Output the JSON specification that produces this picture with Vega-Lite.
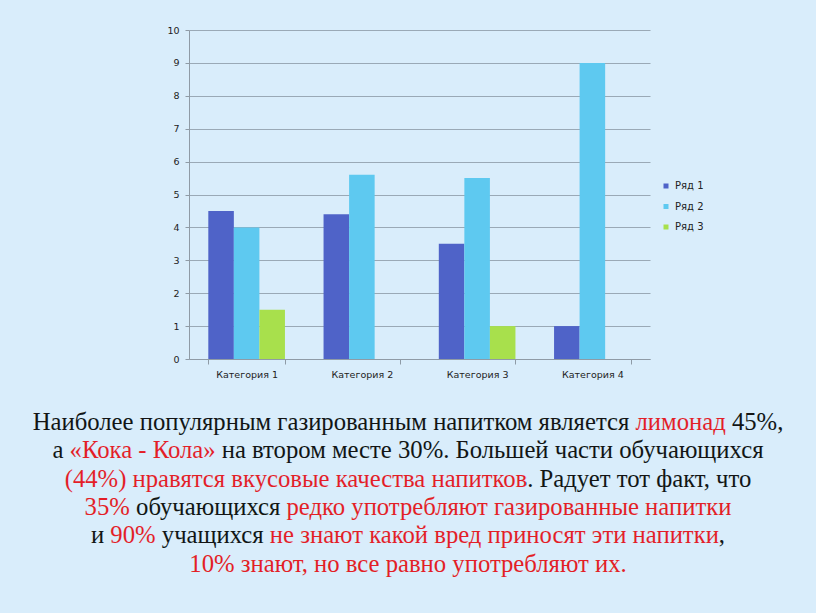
{
  "$schema": "https://vega.github.io/schema/vega-lite/v6.json",
  "autosize": {"type": "none"},
  "width": 461,
  "height": 329,
  "padding": {"left": 189, "top": 30, "right": 166, "bottom": 254},
  "background": "#d9edfb",
  "config": {
    "view": {"stroke": null},
    "font": "DejaVu Sans"
  },
  "datasets": {
    "bars": [
      {"category": "Категория 1", "series": "Ряд 1", "value": 4.5},
      {"category": "Категория 1", "series": "Ряд 2", "value": 4.0},
      {"category": "Категория 1", "series": "Ряд 3", "value": 1.5},
      {"category": "Категория 2", "series": "Ряд 1", "value": 4.4},
      {"category": "Категория 2", "series": "Ряд 2", "value": 5.6},
      {"category": "Категория 3", "series": "Ряд 1", "value": 3.5},
      {"category": "Категория 3", "series": "Ряд 2", "value": 5.5},
      {"category": "Категория 3", "series": "Ряд 3", "value": 1.0},
      {"category": "Категория 4", "series": "Ряд 1", "value": 1.0},
      {"category": "Категория 4", "series": "Ряд 2", "value": 9.0}
    ],
    "lines": [
      {"line": 1, "text": "Наиболее популярным газированным напитком является лимонад 45%,"},
      {"line": 2, "text": "а «Кока - Кола» на втором месте 30%. Большей части обучающихся"},
      {"line": 3, "text": "(44%) нравятся вкусовые качества напитков. Радует тот факт, что"},
      {"line": 4, "text": "35% обучающихся редко употребляют газированные напитки"},
      {"line": 5, "text": "и 90% учащихся не знают какой вред приносят эти напитки,"},
      {"line": 6, "text": "10% знают, но все равно употребляют их."}
    ]
  },
  "resolve": {"scale": {"y": "independent"}, "axis": {"y": "independent"}},
  "layer": [
    {
      "data": {"name": "bars"},
      "mark": {"type": "bar"},
      "encoding": {
        "x": {
          "field": "category",
          "type": "nominal",
          "scale": {"paddingInner": 0.335, "paddingOuter": 0.1675},
          "axis": {
            "title": null,
            "labelAngle": 0,
            "tickBand": "extent",
            "domainColor": "#8f9ba6",
            "tickColor": "#8f9ba6",
            "tickSize": 5,
            "labelFont": "DejaVu Sans",
            "labelFontSize": 9.5,
            "labelColor": "#222222",
            "labelPadding": 5
          }
        },
        "xOffset": {
          "field": "series",
          "type": "nominal",
          "scale": {"paddingInner": 0, "paddingOuter": 0}
        },
        "y": {
          "field": "value",
          "type": "quantitative",
          "scale": {"domain": [0, 10], "nice": false},
          "axis": {
            "title": null,
            "values": [0, 1, 2, 3, 4, 5, 6, 7, 8, 9, 10],
            "grid": true,
            "gridColor": "#9aa9b6",
            "gridOpacity": 1,
            "gridWidth": 1.2,
            "domainColor": "#8f9ba6",
            "tickColor": "#8f9ba6",
            "tickSize": 4,
            "labelFont": "DejaVu Sans",
            "labelFontSize": 9.5,
            "labelColor": "#222222",
            "labelPadding": 6
          }
        },
        "color": {
          "field": "series",
          "type": "nominal",
          "scale": {
            "domain": ["Ряд 1", "Ряд 2", "Ряд 3"],
            "range": ["#4f63c8", "#5ec9f0", "#a8e04c"]
          },
          "legend": {
            "title": null,
            "orient": "none",
            "legendX": 472,
            "legendY": 151,
            "padding": 0,
            "symbolType": "square",
            "symbolSize": 25,
            "symbolStrokeWidth": 0,
            "labelFont": "DejaVu Sans",
            "labelFontSize": 10,
            "labelColor": "#222222",
            "labelOffset": 4,
            "rowPadding": 10.5
          }
        }
      }
    },
    {
      "data": {"name": "lines"},
      "encoding": {
        "y": {"field": "line", "type": "ordinal", "axis": null, "scale": {"range": [400, 541.7], "padding": 0}},
        "text": {"field": "text", "type": "nominal"}
      },
      "layer": [
        {
          "transform": [{"filter": "datum.line == 1"}],
          "mark": {"type": "text", "font": "Times New Roman, Liberation Serif, serif", "fontSize": 24.7, "baseline": "alphabetic", "align": "center", "dx": -11.5,
            "fill": {"gradient": "linear", "x1": 0, "y1": 0, "x2": 1, "y2": 0, "stops": [
              {"offset": 0, "color": "#141414"}, {"offset": 0.801, "color": "#141414"},
              {"offset": 0.801, "color": "#e31e26"}, {"offset": 0.928, "color": "#e31e26"},
              {"offset": 0.928, "color": "#141414"}, {"offset": 1, "color": "#141414"}]}}
        },
        {
          "transform": [{"filter": "datum.line == 2"}],
          "mark": {"type": "text", "font": "Times New Roman, Liberation Serif, serif", "fontSize": 24.7, "baseline": "alphabetic", "align": "center", "dx": -11.5,
            "fill": {"gradient": "linear", "x1": 0, "y1": 0, "x2": 1, "y2": 0, "stops": [
              {"offset": 0, "color": "#141414"}, {"offset": 0.0196, "color": "#141414"},
              {"offset": 0.0196, "color": "#e31e26"}, {"offset": 0.2404, "color": "#e31e26"},
              {"offset": 0.2404, "color": "#141414"}, {"offset": 1, "color": "#141414"}]}}
        },
        {
          "transform": [{"filter": "datum.line == 3"}],
          "mark": {"type": "text", "font": "Times New Roman, Liberation Serif, serif", "fontSize": 24.7, "baseline": "alphabetic", "align": "center", "dx": -11.5,
            "fill": {"gradient": "linear", "x1": 0, "y1": 0, "x2": 1, "y2": 0, "stops": [
              {"offset": 0, "color": "#e31e26"}, {"offset": 0.672, "color": "#e31e26"},
              {"offset": 0.672, "color": "#141414"}, {"offset": 1, "color": "#141414"}]}}
        },
        {
          "transform": [{"filter": "datum.line == 4"}],
          "mark": {"type": "text", "font": "Times New Roman, Liberation Serif, serif", "fontSize": 24.7, "baseline": "alphabetic", "align": "center", "dx": -11.5,
            "fill": {"gradient": "linear", "x1": 0, "y1": 0, "x2": 1, "y2": 0, "stops": [
              {"offset": 0, "color": "#e31e26"}, {"offset": 0.074, "color": "#e31e26"},
              {"offset": 0.074, "color": "#141414"}, {"offset": 0.307, "color": "#141414"},
              {"offset": 0.307, "color": "#e31e26"}, {"offset": 1, "color": "#e31e26"}]}}
        },
        {
          "transform": [{"filter": "datum.line == 5"}],
          "mark": {"type": "text", "font": "Times New Roman, Liberation Serif, serif", "fontSize": 24.7, "baseline": "alphabetic", "align": "center", "dx": -11.5,
            "fill": {"gradient": "linear", "x1": 0, "y1": 0, "x2": 1, "y2": 0, "stops": [
              {"offset": 0, "color": "#141414"}, {"offset": 0.0255, "color": "#141414"},
              {"offset": 0.0255, "color": "#e31e26"}, {"offset": 0.106, "color": "#e31e26"},
              {"offset": 0.106, "color": "#141414"}, {"offset": 0.277, "color": "#141414"},
              {"offset": 0.277, "color": "#e31e26"}, {"offset": 0.9903, "color": "#e31e26"},
              {"offset": 0.9903, "color": "#141414"}, {"offset": 1, "color": "#141414"}]}}
        },
        {
          "transform": [{"filter": "datum.line == 6"}],
          "mark": {"type": "text", "font": "Times New Roman, Liberation Serif, serif", "fontSize": 24.7, "baseline": "alphabetic", "align": "center", "dx": -11.5, "fill": "#e31e26"}
        }
      ]
    }
  ]
}
